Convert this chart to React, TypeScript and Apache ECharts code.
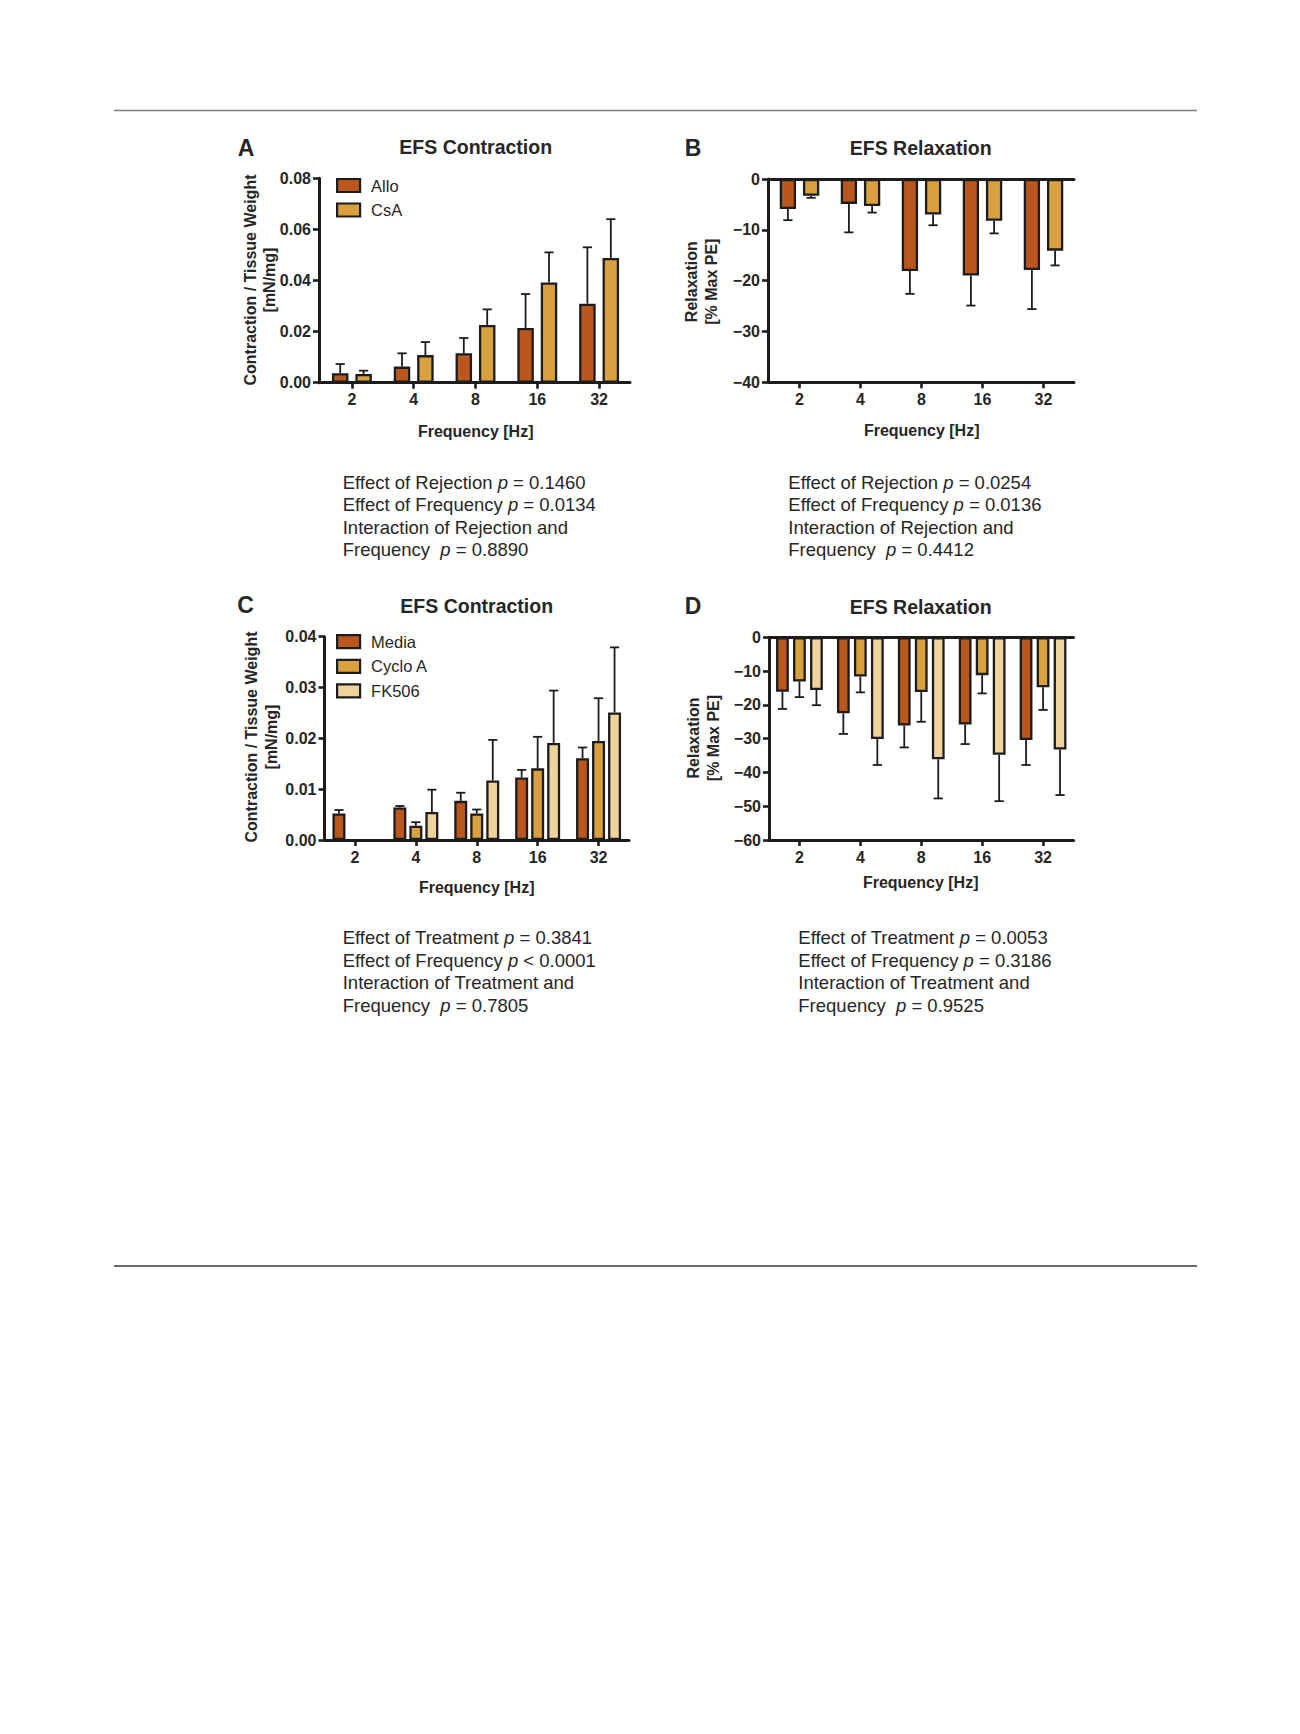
import React, { useEffect, useRef } from "react";
import * as echarts from "echarts";

const FONT = "'Liberation Sans', Arial, Helvetica, sans-serif";

// Frequency categories (Hz)
const freqCats = ["2", "4", "8", "16", "32"];

// Panel A: EFS Contraction (mN/mg)
const aAllo = [0.0037, 0.0063, 0.0115, 0.0214, 0.0309];
const aAlloErr = [0.0036, 0.0052, 0.006, 0.0133, 0.0221];
const aCsA = [0.0034, 0.0108, 0.0226, 0.0392, 0.0488];
const aCsAErr = [0.0013, 0.0051, 0.0061, 0.0118, 0.0152];

// Panel B: EFS Relaxation (% Max PE)
const bAllo = [-5.9, -4.9, -18.1, -19.0, -17.9];
const bAlloErr = [2.2, 5.6, 4.5, 5.9, 7.7];
const bCsA = [-3.3, -5.3, -7.0, -8.2, -14.1];
const bCsAErr = [0.4, 1.3, 2.1, 2.5, 2.9];

// Panel C: EFS Contraction (mN/mg)
const cMedia = [0.0052, 0.0064, 0.0077, 0.0123, 0.0161];
const cMediaErr = [0.0007, 0.0003, 0.0016, 0.0015, 0.0021];
const cCyclo = [null, 0.0028, 0.0052, 0.0141, 0.0195];
const cCycloErr = [null, 0.0007, 0.0008, 0.0062, 0.0084];
const cFK = [null, 0.0055, 0.0117, 0.0191, 0.0251];
const cFKErr = [null, 0.0044, 0.008, 0.0103, 0.0128];

// Panel D: EFS Relaxation (% Max PE)
const dMedia = [-16.1, -22.5, -26.1, -25.8, -30.4];
const dMediaErr = [5.1, 6.1, 6.5, 5.8, 7.4];
const dCyclo = [-13.1, -11.6, -16.2, -11.2, -14.8];
const dCycloErr = [4.6, 4.7, 8.8, 5.4, 6.7];
const dFK = [-15.6, -30.1, -36.1, -34.8, -33.2];
const dFKErr = [4.5, 7.7, 11.6, 13.7, 13.5];

// Statistics text
const statsA = [
  ["Effect of Rejection ", "0.1460", "="],
  ["Effect of Frequency ", "0.0134", "="],
  ["Interaction of Rejection and", null, null],
  ["Frequency  ", "0.8890", "="],
];
const statsB = [
  ["Effect of Rejection ", "0.0254", "="],
  ["Effect of Frequency ", "0.0136", "="],
  ["Interaction of Rejection and", null, null],
  ["Frequency  ", "0.4412", "="],
];
const statsC = [
  ["Effect of Treatment ", "0.3841", "="],
  ["Effect of Frequency ", "0.0001", "<"],
  ["Interaction of Treatment and", null, null],
  ["Frequency  ", "0.7805", "="],
];
const statsD = [
  ["Effect of Treatment ", "0.0053", "="],
  ["Effect of Frequency ", "0.3186", "="],
  ["Interaction of Treatment and", null, null],
  ["Frequency  ", "0.9525", "="],
];

const C1 = "#B9571F";
const C2 = "#D9A03F";
const C3 = "#EFD39C";
const INK = "#1c1c1c";
const TXT = "#262626";

function barSeries(name, data, color, xi, yi, bw, spacing) {
  return {
    type: "bar",
    name,
    data,
    xAxisIndex: xi,
    yAxisIndex: yi,
    barWidth: bw,
    barGap: ((spacing - bw) / bw) * 100 + "%",
    itemStyle: { color, borderColor: INK, borderWidth: 2.3 },
    emphasis: { disabled: true },
    silent: true,
    z: 2,
  };
}

function errSeries(name, means, errs, xi, yi, offset) {
  const data = [];
  means.forEach((m, i) => {
    if (m === null || errs[i] === null) return;
    const end = m >= 0 ? m + errs[i] : m - errs[i];
    data.push([i, m, end]);
  });
  return {
    type: "custom",
    name,
    xAxisIndex: xi,
    yAxisIndex: yi,
    silent: true,
    z: 3,
    data,
    renderItem: (params, api) => {
      const ci = api.value(0);
      const p1 = api.coord([ci, api.value(1)]);
      const p2 = api.coord([ci, api.value(2)]);
      const x = p1[0] + offset;
      const st = { stroke: INK, lineWidth: 1.8 };
      return {
        type: "group",
        children: [
          { type: "line", shape: { x1: x, y1: p1[1], x2: x, y2: p2[1] }, style: st },
          { type: "line", shape: { x1: x - 4.6, y1: p2[1], x2: x + 4.6, y2: p2[1] }, style: st },
        ],
      };
    },
  };
}

const axisLine = { show: true, lineStyle: { color: INK, width: 3 } };
const tickStyle = { show: true, length: 6, lineStyle: { color: INK, width: 2.6 } };
const labelStyle = { color: TXT, fontFamily: FONT, fontWeight: "bold", fontSize: 16 };

function catAxis(gi, extra = {}) {
  return {
    type: "category",
    gridIndex: gi,
    data: freqCats,
    position: "bottom",
    axisLine: { ...axisLine, onZero: false },
    axisTick: { ...tickStyle, alignWithLabel: true },
    axisLabel: { ...labelStyle, margin: 9 },
    splitLine: { show: false },
    ...extra,
  };
}

function topAxis(gi) {
  return {
    type: "category",
    gridIndex: gi,
    data: freqCats,
    position: "top",
    axisLine: { ...axisLine, onZero: false },
    axisTick: { show: false },
    axisLabel: { show: false },
    splitLine: { show: false },
  };
}

function valAxis(gi, min, max, interval, fmt, offset) {
  return {
    type: "value",
    gridIndex: gi,
    min,
    max,
    interval,
    offset,
    axisLine,
    axisTick: tickStyle,
    axisLabel: { ...labelStyle, margin: 8, formatter: fmt },
    splitLine: { show: false },
  };
}

const fmt2 = (v) => v.toFixed(2);
const fmtNeg = (v) => (v < 0 ? "\u2212" + Math.abs(v) : String(v));

function txt(x, y, text, size, weight, extra = {}) {
  return {
    type: "text",
    x,
    y,
    silent: true,
    style: {
      text,
      fill: TXT,
      font: `${weight} ${size}px ${FONT}`,
      align: "center",
      verticalAlign: "middle",
      ...extra,
    },
  };
}

function statsBlock(x, y0, step, lines) {
  return lines.map((ln, i) => {
    const [lead, val, op] = ln;
    const text = val === null ? `{n|${lead}}` : `{n|${lead}}{i|p}{n| ${op} ${val}}`;
    return {
      type: "text",
      x,
      y: y0 + i * step,
      silent: true,
      style: {
        text,
        align: "left",
        verticalAlign: "middle",
        rich: {
          n: { fontFamily: FONT, fontSize: 18.5, fill: TXT, color: TXT },
          i: { fontFamily: FONT, fontSize: 18.5, fontStyle: "italic", fill: TXT, color: TXT },
        },
      },
    };
  });
}

function yName(x, y, text, lh) {
  return {
    type: "text",
    x,
    y,
    rotation: Math.PI / 2,
    silent: true,
    style: {
      text,
      fill: TXT,
      font: `bold 16px ${FONT}`,
      align: "center",
      verticalAlign: "middle",
      lineHeight: lh,
    },
  };
}

function legendCfg(names, left, top, gap) {
  return {
    data: names,
    left,
    top,
    padding: 0,
    orient: "vertical",
    icon: "rect",
    itemWidth: 23,
    itemHeight: 13,
    itemGap: gap,
    selectedMode: false,
    itemStyle: { borderColor: INK, borderWidth: 2.2 },
    textStyle: {
      fontFamily: FONT,
      fontSize: 16.5,
      color: TXT,
      lineHeight: 18,
      padding: [0, 0, 0, 6],
    },
  };
}

export default function App() {
  const ref = useRef(null);
  useEffect(() => {
    const chart = echarts.init(ref.current, null, { renderer: "svg" });
    const option = {
      animation: false,
      backgroundColor: "#ffffff",
      grid: [
        { left: 321, top: 178.3, width: 309, height: 204.4 },
        { left: 769, top: 179, width: 305, height: 203.3 },
        { left: 324.5, top: 636.7, width: 304.5, height: 203.3 },
        { left: 769, top: 637.3, width: 304.5, height: 202.7 },
      ],
      xAxis: [catAxis(0), catAxis(1), topAxis(1), catAxis(2), catAxis(3), topAxis(3)],
      yAxis: [
        valAxis(0, 0, 0.08, 0.02, fmt2, 2),
        valAxis(1, -40, 0, 10, fmtNeg, 1),
        valAxis(2, 0, 0.04, 0.01, fmt2, 0),
        valAxis(3, -60, 0, 10, fmtNeg, 0),
      ],
      legend: [
        legendCfg(["Allo", "CsA"], 336, 176.5, 6.5),
        legendCfg(["Media", "Cyclo A", "FK506"], 336, 632.7, 6.6),
      ],
      series: [
        barSeries("Allo", aAllo, C1, 0, 0, 16.5, 23.4),
        barSeries("CsA", aCsA, C2, 0, 0, 16.5, 23.4),
        errSeries("Allo err", aAllo, aAlloErr, 0, 0, -11.7),
        errSeries("CsA err", aCsA, aCsAErr, 0, 0, 11.7),

        barSeries("Allo ", bAllo, C1, 1, 1, 16.3, 23.2),
        barSeries("CsA ", bCsA, C2, 1, 1, 16.3, 23.2),
        errSeries("Allo err B", bAllo, bAlloErr, 1, 1, -11.6),
        errSeries("CsA err B", bCsA, bCsAErr, 1, 1, 11.6),

        barSeries("Media", cMedia, C1, 3, 2, 13, 16),
        barSeries("Cyclo A", cCyclo, C2, 3, 2, 13, 16),
        barSeries("FK506", cFK, C3, 3, 2, 13, 16),
        errSeries("Media err", cMedia, cMediaErr, 3, 2, -16),
        errSeries("Cyclo err", cCyclo, cCycloErr, 3, 2, 0),
        errSeries("FK err", cFK, cFKErr, 3, 2, 16),

        barSeries("Media ", dMedia, C1, 4, 3, 12.8, 17),
        barSeries("Cyclo A ", dCyclo, C2, 4, 3, 12.8, 17),
        barSeries("FK506 ", dFK, C3, 4, 3, 12.8, 17),
        errSeries("Media err D", dMedia, dMediaErr, 4, 3, -17),
        errSeries("Cyclo err D", dCyclo, dCycloErr, 4, 3, 0),
        errSeries("FK err D", dFK, dFKErr, 4, 3, 17),
      ],
      graphic: [
        { type: "line", silent: true, shape: { x1: 114, y1: 110.5, x2: 1197, y2: 110.5 }, style: { stroke: "#7f7f7f", lineWidth: 1.6 } },
        { type: "line", silent: true, shape: { x1: 114, y1: 1266, x2: 1197, y2: 1266 }, style: { stroke: "#3a3a3a", lineWidth: 1.6 } },

        txt(246, 148, "A", 23, "bold"),
        txt(693, 148, "B", 23, "bold"),
        txt(245.5, 604.5, "C", 23, "bold"),
        txt(693, 605.5, "D", 23, "bold"),

        txt(475.7, 147, "EFS Contraction", 19.5, "bold"),
        txt(920.7, 148, "EFS Relaxation", 19.5, "bold"),
        txt(476.7, 606, "EFS Contraction", 19.5, "bold"),
        txt(920.7, 607, "EFS Relaxation", 19.5, "bold"),

        txt(475.7, 431, "Frequency [Hz]", 16, "bold"),
        txt(921.7, 430, "Frequency [Hz]", 16, "bold"),
        txt(476.7, 887.7, "Frequency [Hz]", 16, "bold"),
        txt(920.7, 882.7, "Frequency [Hz]", 16, "bold"),

        yName(259.5, 280, "Contraction / Tissue Weight\n[mN/mg]", 19),
        yName(701.5, 281.7, "Relaxation\n[% Max PE]", 20),
        yName(261, 737, "Contraction / Tissue Weight\n[mN/mg]", 20),
        yName(703, 738, "Relaxation\n[% Max PE]", 20),

        ...statsBlock(342.7, 482.5, 22.3, statsA),
        ...statsBlock(788.3, 482.5, 22.3, statsB),
        ...statsBlock(342.7, 937.5, 22.5, statsC),
        ...statsBlock(798.3, 937.5, 22.5, statsD),
      ],
    };
    chart.setOption(option);
    return () => chart.dispose();
  }, []);
  return (
    <div
      ref={ref}
      style={{ position: "absolute", left: 0, top: 0, width: 1300, height: 1734, background: "#fff" }}
    />
  );
}
